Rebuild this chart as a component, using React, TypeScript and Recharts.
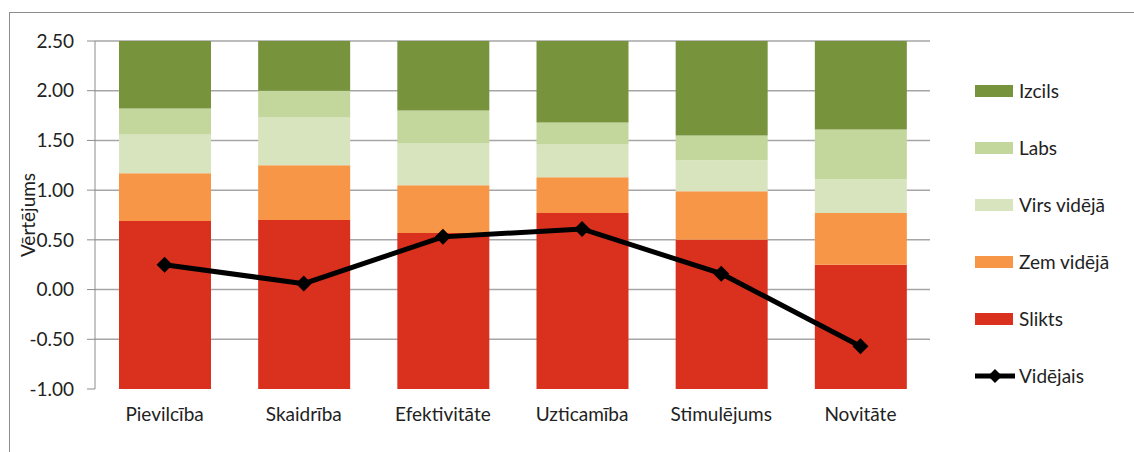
import { ComposedChart, Bar, Line, XAxis, YAxis, CartesianGrid, Legend } from "recharts"

const categories = ["Pievilcība", "Skaidrība", "Efektivitāte", "Uzticamība", "Stimulējums", "Novitāte"]

// upper edge of every band; the bars all start at the axis bottom (-1)
const sliktsTop = [0.69, 0.7, 0.57, 0.77, 0.5, 0.25]
const zemTop = [1.17, 1.25, 1.05, 1.13, 0.99, 0.77]
const virsTop = [1.56, 1.73, 1.47, 1.46, 1.3, 1.11]
const labsTop = [1.82, 2.0, 1.8, 1.68, 1.55, 1.61]
const izcilsTop = [2.5, 2.5, 2.5, 2.5, 2.5, 2.5]
const videjais = [0.25, 0.06, 0.53, 0.61, 0.16, -0.57]

const yTicks = [-1, -0.5, 0, 0.5, 1, 1.5, 2, 2.5]
const gridValues = [-0.5, 0, 0.5, 1, 1.5, 2, 2.5]
const baseline = -1

const data = categories.map((name, i) => ({
  name,
  slikts: [baseline, sliktsTop[i]],
  zem: [sliktsTop[i], zemTop[i]],
  virs: [zemTop[i], virsTop[i]],
  labs: [virsTop[i], labsTop[i]],
  izcils: [labsTop[i], izcilsTop[i]],
  avg: videjais[i],
}))

const legendItems = [
  { name: "Izcils", color: "#77933C" },
  { name: "Labs", color: "#C3D69B" },
  { name: "Virs vidējā", color: "#D7E4BD" },
  { name: "Zem vidējā", color: "#F79646" },
  { name: "Slikts", color: "#DA311E" },
  { name: "Vidējais", color: "#000000", line: true },
]

const font = "Lato, 'Open Sans', sans-serif"
const fontSize = 19

const Diamond = (props: any) => {
  const { cx, cy, index } = props
  if (cx == null || cy == null) return <g key={`d-${index}`} />
  const r = 8
  return <path key={`d-${index}`} d={`M${cx},${cy - r}L${cx + r},${cy}L${cx},${cy + r}L${cx - r},${cy}Z`} fill="#000" />
}

const renderLegend = () => (
  <div style={{ paddingLeft: 45, fontFamily: font, fontSize, color: "#222", whiteSpace: "nowrap" }}>
    {legendItems.map((it) => (
      <div key={it.name} style={{ height: 57, display: "flex", alignItems: "center" }}>
        {it.line ? (
          <svg width={40} height={16} style={{ display: "block", flexShrink: 0 }}>
            <line x1={0} y1={8} x2={40} y2={8} stroke="#000" strokeWidth={5} />
            <path d="M20,1L27,8L20,15L13,8Z" fill="#000" />
          </svg>
        ) : (
          <div style={{ width: 38, height: 12, background: it.color, marginRight: 2, flexShrink: 0 }} />
        )}
        <span style={{ marginLeft: 4 }}>{it.name}</span>
      </div>
    ))}
  </div>
)

export default function App() {
  return (
    <div style={{ position: "absolute", left: 0, top: 0, width: 1134, height: 452, background: "#fff" }}>
      <div
        style={{
          position: "absolute",
          left: 9,
          top: 12,
          right: 0,
          bottom: 0,
          borderLeft: "1px solid #8c8c8c",
          borderTop: "1px solid #8c8c8c",
        }}
      />
      <ComposedChart
        width={1134}
        height={452}
        data={data}
        margin={{ top: 41, right: 44, bottom: 23, left: 40 }}
        barGap={-92}
        barSize={92}
      >
        <CartesianGrid vertical={false} horizontalValues={gridValues} stroke="#a6a6a6" strokeWidth={1.5} />
        <XAxis
          dataKey="name"
          axisLine={false}
          tickLine={false}
          tickSize={0}
          tickMargin={19}
          height={40}
          tick={{ fontFamily: font, fontSize, fill: "#222" }}
        />
        <YAxis
          domain={[-1, 2.5]}
          ticks={yTicks}
          width={55}
          stroke="#8c8c8c"
          tickSize={8}
          tickMargin={13}
          tickFormatter={(v: number) => v.toFixed(2)}
          tick={{ fontFamily: font, fontSize, fill: "#222" }}
          label={{
            value: "Vērtējums",
            angle: -90,
            position: "left",
            offset: 12,
            style: { fontFamily: font, fontSize, fill: "#222", textAnchor: "middle" },
          }}
        />
        <Bar dataKey="slikts" name="Slikts" fill="#DA311E" isAnimationActive={false} />
        <Bar dataKey="zem" name="Zem vidējā" fill="#F79646" isAnimationActive={false} />
        <Bar dataKey="virs" name="Virs vidējā" fill="#D7E4BD" isAnimationActive={false} />
        <Bar dataKey="labs" name="Labs" fill="#C3D69B" isAnimationActive={false} />
        <Bar dataKey="izcils" name="Izcils" fill="#77933C" isAnimationActive={false} />
        <Line
          dataKey="avg"
          name="Vidējais"
          stroke="#000"
          strokeWidth={5}
          dot={Diamond}
          activeDot={false}
          isAnimationActive={false}
        />
        <Legend
          layout="vertical"
          align="right"
          verticalAlign="top"
          width={160}
          wrapperStyle={{ top: 62, right: 44 }}
          content={renderLegend}
        />
      </ComposedChart>
    </div>
  )
}
